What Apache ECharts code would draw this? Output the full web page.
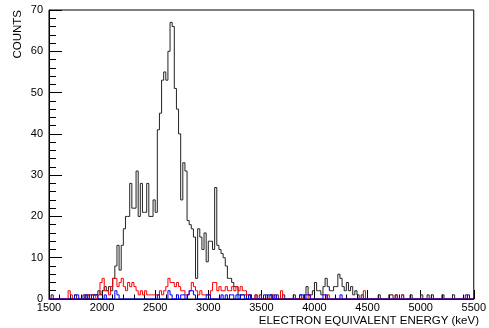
<!DOCTYPE html>
<html>
<head>
<meta charset="utf-8">
<script src="https://cdn.jsdelivr.net/npm/echarts@6/dist/echarts.min.js"></script>
<style>
html,body{margin:0;padding:0;background:#fff;}
#chart{width:489px;height:328px;}
</style>
</head>
<body>
<div id="chart"></div>
<script>
// Histogram binning (keV)
const BIN_START = 1500;
const BIN_WIDTH = 20;
const X_TICKS = [1500, 2000, 2500, 3000, 3500, 4000, 4500, 5000, 5500];
const Y_TICKS = [0, 10, 20, 30, 40, 50, 60, 70];

// Counts per 20 keV bin, starting at 1500 keV (200 bins)
const blackCounts = [
  0,1,0,0,0,0,0,0,0,0, 0,0,1,0,0,0,1,0,1,0,
  1,1,1,2,1,2,3,2,3,2, 5,8,13,7,13,17,20,20,28,22,
  22,31,20,28,21,21,28,20,20,24, 21,41,45,53,55,53,60,67,66,51,
  46,40,24,33,31,19,18,17,15,5, 17,15,12,16,9,14,14,12,27,13,
  12,11,10,8,5,5,4,3,3,1, 1,1,1,0,1,0,0,1,0,1,
  0,0,1,0,1,0,0,1,0,0, 1,0,0,0,0,1,0,0,1,0,
  1,3,1,1,2,4,2,2,1,3, 5,3,2,2,3,3,6,5,3,2,
  4,2,3,1,2,1,0,1,0,0, 0,0,0,0,0,1,0,0,0,0,
  1,1,0,1,0,0,1,0,0,0, 1,0,0,0,0,1,0,0,1,0,
  1,0,0,0,0,1,0,0,0,0, 1,0,0,0,0,0,1,0,0,0
];
const redCounts = [
  0,0,0,0,0,0,0,0,0,2, 1,0,0,0,0,0,0,1,1,0,
  1,1,0,1,4,5,2,2,1,3, 5,5,3,4,5,3,2,4,3,4,
  3,2,1,2,1,2,1,1,1,1, 1,1,2,1,2,3,5,4,4,3,
  4,3,2,2,1,1,2,4,3,2, 1,2,1,1,1,1,2,4,4,2,
  3,2,2,3,2,2,3,2,3,2, 3,2,2,1,1,0,0,1,0,0,
  0,0,0,0,0,1,0,0,0,2, 0,0,0,0,0,0,0,0,0,0,
  0,0,1,0,0,0,0,0,0,0, 0,1,0,0,0,0,0,0,0,0,
  0,0,0,0,0,0,0,0,2,0, 0,0,0,0,0,0,0,0,0,0,
  0,0,0,1,0,0,1,0,0,0, 0,0,0,0,0,0,0,0,0,0,
  0,0,0,0,0,0,0,0,0,0, 0,0,0,0,0,0,0,0,0,0
];
const blueCounts = [
  0,0,0,0,0,0,0,0,0,0, 0,0,1,1,0,0,0,1,0,1,
  0,1,1,0,0,0,1,0,0,0, 0,2,1,0,0,0,0,0,0,0,
  0,0,0,0,0,0,0,0,0,0, 0,1,0,0,0,0,2,1,0,0,
  1,0,1,1,0,1,2,2,1,0, 0,0,0,0,1,1,0,0,0,0,
  0,1,0,1,0,1,1,0,1,0, 1,1,0,0,1,0,0,0,0,0,
  0,1,0,1,1,0,1,0,0,0, 0,0,0,0,0,0,0,0,1,1,
  0,1,1,0,0,0,0,0,0,1, 1,0,0,0,0,0,0,1,0,0,
  0,0,0,0,0,0,0,0,0,0, 0,0,0,0,0,0,0,0,0,0,
  0,0,0,0,0,0,0,0,0,0, 0,0,0,0,0,0,0,0,0,0,
  0,0,0,0,0,0,0,0,0,0, 0,0,0,0,0,0,0,1,0,0
];

function histData(counts) {
  const d = counts.map((v, i) => [BIN_START + i * BIN_WIDTH, v]);
  d.push([BIN_START + counts.length * BIN_WIDTH, counts[counts.length - 1]]);
  return d;
}

const FONT = 'Liberation Sans, Arial, Helvetica, sans-serif';
const chart = echarts.init(document.getElementById('chart'), null, {renderer: 'canvas'});
chart.setOption({
  animation: false,
  backgroundColor: '#fff',
  grid: {left: 49, right: 12, top: 10, bottom: 29, show: true, borderColor: '#000', borderWidth: 1, backgroundColor: 'transparent'},
  xAxis: {
    type: 'value', min: X_TICKS[0], max: X_TICKS[X_TICKS.length - 1], interval: 500,
    axisLine: {show: true, lineStyle: {color: '#000', width: 1}},
    axisTick: {show: true, inside: true, length: 9, lineStyle: {color: '#000'}},
    minorTick: {show: true, splitNumber: 5, length: 4.5, lineStyle: {color: '#000'}},
    splitLine: {show: false},
    axisLabel: {color: '#000', fontFamily: FONT, fontSize: 11, margin: 3, showMinLabel: true, showMaxLabel: true,
                formatter: v => String(v)}
  },
  yAxis: {
    type: 'value', min: Y_TICKS[0], max: Y_TICKS[Y_TICKS.length - 1], interval: 10,
    axisLine: {show: true, lineStyle: {color: '#000', width: 1}},
    axisTick: {show: true, inside: true, length: 13, lineStyle: {color: '#000'}},
    minorTick: {show: true, splitNumber: 5, length: 7, lineStyle: {color: '#000'}},
    splitLine: {show: false},
    axisLabel: {color: '#000', fontFamily: FONT, fontSize: 11, margin: 6, formatter: v => String(v)}
  },
  graphic: [
    {type: 'text', x: 479, y: 321, z: 10,
     style: {text: 'ELECTRON EQUIVALENT ENERGY (keV)', align: 'right', verticalAlign: 'middle', fill: '#000', font: '11.5px ' + FONT}},
    {type: 'text', x: 18, y: 10, rotation: Math.PI / 2, z: 10,
     style: {text: 'COUNTS', align: 'right', verticalAlign: 'middle', fill: '#000', font: '11.5px ' + FONT}}
  ],
  series: [
    {type: 'line', step: 'end', data: histData(blackCounts), showSymbol: false, z: 2,
     lineStyle: {color: '#222', width: 1}, itemStyle: {color: '#222'}},
    {type: 'line', step: 'end', data: histData(redCounts), showSymbol: false, z: 3,
     lineStyle: {color: '#ff0000', width: 1}, itemStyle: {color: '#ff0000'}},
    {type: 'line', step: 'end', data: histData(blueCounts), showSymbol: false, z: 4,
     lineStyle: {color: '#0000ff', width: 1}, itemStyle: {color: '#0000ff'}}
  ]
});
</script>
</body>
</html>
